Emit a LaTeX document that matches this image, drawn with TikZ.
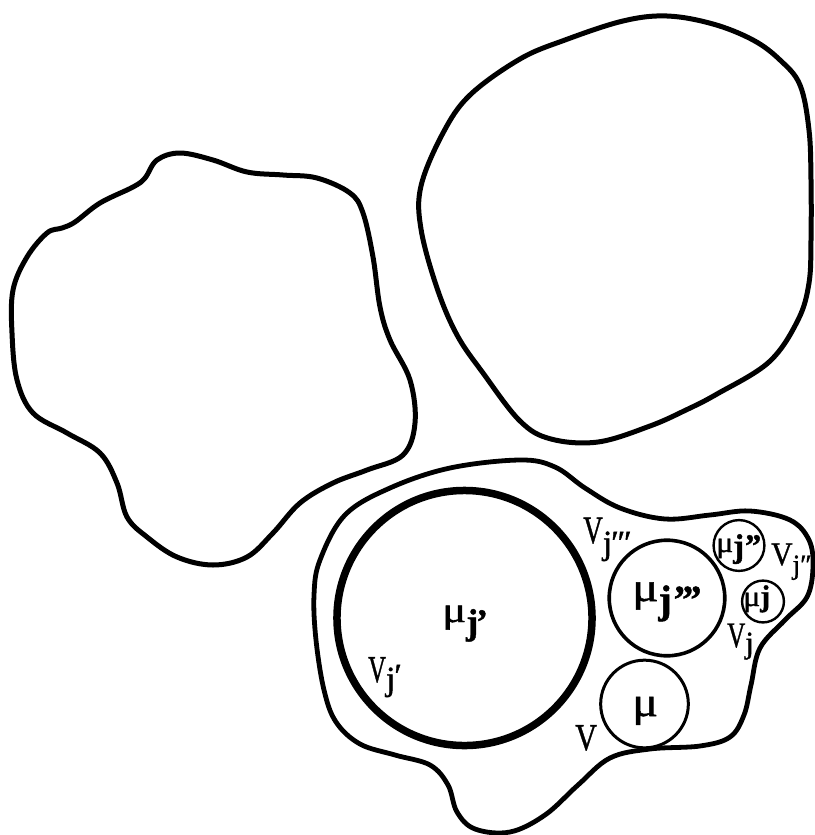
\documentclass[tikz,border=0pt]{standalone}
\usepackage{fontspec}
\setmainfont{Liberation Serif}[FakeBold=1.2]
\usetikzlibrary{calc}

\newcommand\fs[1]{\fontsize{#1}{#1}\selectfont}
\newcommand\nar[2]{\scalebox{#1}[1]{#2}}

\begin{document}
\begin{tikzpicture}[x=1bp, y=-1bp,
    blob/.style={line width=5bp, line join=round},
    ball/.style={circle, draw, inner sep=0pt, line width=2.8bp},
    lbl/.style={anchor=base west, inner sep=0pt}]
  \useasboundingbox (0,0) rectangle (815,835);
  % three regions
  \draw[blob] plot[smooth cycle, tension=0.6] coordinates {
    (12,333) (13,290) (27,257) (47,233) (62,228) (75,222) (100,203) (133,187)
    (145,178) (157,160) (180,153) (213,160) (247,172) (283,175) (317,178)
    (350,193) (363,213) (373,257) (380,307) (390,340) (410,380) (415,423)
    (403,455) (367,470) (333,483) (300,503) (273,533) (247,557) (213,565)
    (177,557) (147,537) (127,517) (117,483) (100,453) (67,433) (33,413) (17,380)};
  \draw[blob] plot[smooth cycle, tension=0.6] coordinates {
    (421,229) (437,288) (457,335) (483,373) (520,421) (551,439) (598,442)
    (650,426) (686,410) (717,394) (769,362) (798,320) (809,283)
    (811,240) (811,180) (809,130) (800,85) (780,60) (753,40)
    (713,24) (667,16) (623,21) (565,40) (520,59) (470,95) (443,133) (421,186)};
  \draw[blob, line width=4.8bp] plot[smooth cycle, tension=0.6] coordinates {
    (320,560) (345,515) (390,488) (450,468) (520,460) (555,467) (585,488)
    (620,508) (665,519) (710,515) (750,511) (790,520) (809,540) (813,567)
    (807,597) (785,620) (760,648) (751,685) (744,715) (730,737) (700,746)
    (650,749) (610,758) (578,785) (545,815) (510,832) (475,829) (457,812)
    (448,785) (430,765) (395,755) (360,744) (336,722) (324,690) (316,640)
    (314,595)};
  % balls
  \node[ball, line width=7.5bp, minimum size=256] (bj1) at (464.5,618) {};
  \node[ball, line width=3.6bp, minimum size=116] (bj3) at (667,598) {};
  \node[ball, line width=3bp, minimum size=88] (b) at (644.5,704) {};
  \node[ball, line width=2.4bp, minimum size=51] (bj2) at (739,545.5) {};
  \node[ball, line width=2.4bp, minimum size=42] (bj) at (763,601.5) {};
  % labels
  \node[lbl] (mj1) at (442,622)
    {\nar{1.25}{\fs{36}μ}\raisebox{-12bp}{\fs{36}\bfseries j\kern-0.06em’}};
  \node[lbl] (vj1) at (368,682)
    {\nar{0.65}{\fs{38}V}\raisebox{-8bp}{\fs{34}j\raisebox{3bp}{\kern-1bp′}}};
  \node[lbl] (vj3) at (583,543)
    {\nar{0.7}{\fs{39}V}\raisebox{-11bp}{\fs{34}j\kern-1bp′\kern-1bp′\kern-1bp′}};
  \node[lbl] (mj3) at (632,601)
    {\nar{1.2}{\fs{41}μ}\raisebox{-12bp}{\fs{40}\bfseries j\kern1bp’\kern-5bp’\kern-5bp’}};
  \node[lbl] (mj2) at (716,552)
    {\nar{1.1}{\fs{29}μ}\raisebox{-5bp}{\fs{33}\bfseries j’\kern-4bp’}};
  \node[lbl] (vj2) at (771,565)
    {\nar{0.9}{\fs{33}V}\raisebox{-9bp}{\fs{28}j′\kern-1bp′}};
  \node[lbl] (mj) at (743,606) {\nar{1.1}{\fs{29}μ}\fs{30}\bfseries j};
  \node[lbl] (vj) at (727,647)
    {\nar{0.7}{\fs{36}V}\raisebox{-6bp}{\fs{31}j}};
  \node[lbl] (m) at (632,716) {\nar{1.15}{\fs{42}μ}};
  \node[lbl] (v) at (575,750) {\nar{0.8}{\fs{38}V}};
\end{tikzpicture}
\end{document}
